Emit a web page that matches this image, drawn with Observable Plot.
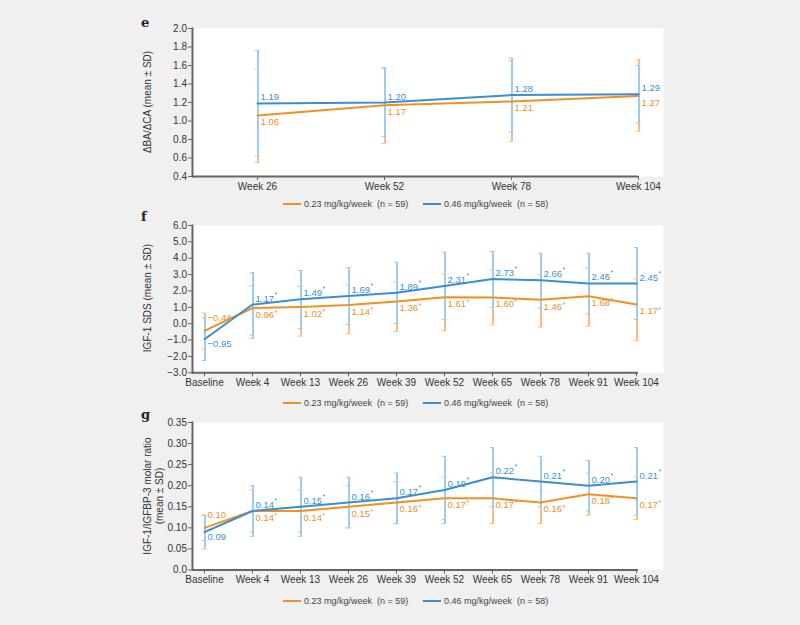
<!DOCTYPE html>
<html><head><meta charset="utf-8">
<script src="https://cdn.jsdelivr.net/npm/d3@7"></script>
<script src="https://cdn.jsdelivr.net/npm/@observablehq/plot@0.6"></script>
<style>
body{margin:0;background:#f0f0f0;font-family:"Liberation Sans",Arial,sans-serif;}
#root{position:relative;width:800px;height:625px;overflow:hidden;}
.panel{position:absolute;left:0;}
.letter{position:absolute;left:141px;font-family:"DejaVu Serif","Liberation Serif",serif;font-weight:bold;font-size:13px;line-height:16px;color:#222;}
.lg{position:absolute;font-size:9px;line-height:12px;color:#444;white-space:pre;}
.lgline{position:absolute;height:2px;width:18px;}
.ytitle{position:absolute;width:240px;text-align:center;font-size:10px;line-height:12px;color:#333;white-space:pre-line;transform:rotate(-90deg);transform-origin:50% 50%;}
</style></head>
<body><div id="root"></div>
<script>
// ---- data ----
const seriesNames = ["0.23 mg/kg/week  (n = 59)", "0.46 mg/kg/week  (n = 58)"];
const panelLetters = ["e", "f", "g"];

const eVisits = ["Week 26", "Week 52", "Week 78", "Week 104"];
const eLowMean = [1.06, 1.17, 1.21, 1.27];
const eLowLo = [0.55, 0.76, 0.78, 0.89];
const eLowHi = [1.56, 1.58, 1.65, 1.66];
const eHighMean = [1.19, 1.20, 1.28, 1.29];
const eHighLo = [0.62, 0.83, 0.88, 0.98];
const eHighHi = [1.76, 1.57, 1.68, 1.60];
const eTicks = [0.4, 0.6, 0.8, 1.0, 1.2, 1.4, 1.6, 1.8, 2.0];
const eTitle = "ΔBA/ΔCA (mean ± SD)";

const fgVisits = ["Baseline", "Week 4", "Week 13", "Week 26", "Week 39", "Week 52", "Week 65", "Week 78", "Week 91", "Week 104"];
const fLowMean = [-0.44, 0.96, 1.02, 1.14, 1.36, 1.61, 1.60, 1.46, 1.68, 1.17];
const fLowLo = [-1.55, -0.90, -0.76, -0.62, -0.48, -0.42, -0.07, -0.21, -0.15, -1.03];
const fLowHi = [0.65, 2.33, 2.27, 2.37, 2.54, 3.04, 3.29, 2.99, 3.41, 2.74];
const fHighMean = [-0.95, 1.17, 1.49, 1.69, 1.89, 2.31, 2.73, 2.66, 2.46, 2.45];
const fHighLo = [-2.25, -0.70, -0.31, -0.05, 0.01, 0.25, 1.01, 0.95, 0.60, 0.26];
const fHighHi = [0.35, 3.11, 3.25, 3.41, 3.76, 4.37, 4.41, 4.31, 4.31, 4.64];
const fTicks = [-3, -2, -1, 0, 1, 2, 3, 4, 5, 6];
const fTitle = "IGF-1 SDS (mean ± SD)";

const gLowMean = [0.10, 0.14, 0.14, 0.15, 0.16, 0.17, 0.17, 0.16, 0.18, 0.17];
const gLowLo = [0.07, 0.09, 0.09, 0.10, 0.11, 0.12, 0.11, 0.11, 0.13, 0.12];
const gLowHi = [0.13, 0.19, 0.19, 0.20, 0.21, 0.22, 0.23, 0.21, 0.23, 0.22];
const gHighMean = [0.09, 0.14, 0.15, 0.16, 0.17, 0.19, 0.22, 0.21, 0.20, 0.21];
const gHighLo = [0.05, 0.08, 0.08, 0.10, 0.11, 0.11, 0.15, 0.15, 0.14, 0.13];
const gHighHi = [0.13, 0.20, 0.22, 0.22, 0.23, 0.27, 0.29, 0.27, 0.26, 0.29];
const gTicks = [0, 0.05, 0.10, 0.15, 0.20, 0.25, 0.30, 0.35];
const gTickLabels = ["0.0", "0.05", "0.10", "0.15", "0.20", "0.25", "0.30", "0.35"];
const gTitle = "IGF-1/IGFBP-3 molar ratio\n(mean ± SD)";

// ---- styles ----
const ORANGE = "#f39022", BLUE = "#3a8ed2";
const ORANGE_L = "#f8bd85", BLUE_L = "#9fcbec";
const TEXT_O = "#f28e1e", TEXT_B = "#3c90d4";
const AXIS = "#666", TICKTXT = "#333";

function rows(visits, mean, lo, hi, stars) {
  return visits.map((v, i) => ({
    visit: v, mean: mean[i], lo: lo[i], hi: hi[i],
    label: d3.format(".2f")(mean[i]),
    star: stars && i > 0 ? "*" : "",
    base: v === "Baseline"
  }));
}

function makePanel(o) {
  const low = rows(o.visits, o.lowMean, o.lowLo, o.lowHi, o.stars);
  const high = rows(o.visits, o.highMean, o.highLo, o.highHi, o.stars);
  const nb = d => !d.base, b = d => d.base;
  const crisp = {shapeRendering: "crispEdges"};
  const cap = (data, key, color) => Plot.ruleY(data, {x1: "visit", x2: "visit", y: key, insetLeft: -2.5, insetRight: -2.5, stroke: color, strokeWidth: 1});
  return Plot.plot({
    width: 800, height: o.height,
    marginLeft: 192, marginRight: 137, marginTop: o.marginTop, marginBottom: o.marginBottom,
    style: {fontFamily: '"Liberation Sans", Arial, sans-serif', background: "transparent", color: AXIS},
    x: {type: "point", domain: o.visits, range: o.xRange, padding: 0, label: null},
    y: {domain: o.yDomain, label: null},
    marks: [
      Plot.frame({fill: "white", stroke: null}),
      Plot.ruleX(low, {x: "visit", y1: "lo", y2: "hi", stroke: ORANGE_L, strokeWidth: 2, ...crisp}),
      Plot.ruleX(high, {x: "visit", y1: "lo", y2: "hi", stroke: BLUE_L, strokeWidth: 2, ...crisp}),
      cap(low, "lo", ORANGE_L), cap(low, "hi", ORANGE_L),
      cap(high, "lo", BLUE_L), cap(high, "hi", BLUE_L),
      Plot.line(low, {x: "visit", y: "mean", stroke: ORANGE, strokeWidth: 2}),
      Plot.line(high, {x: "visit", y: "mean", stroke: BLUE, strokeWidth: 2}),
      // value labels
      Plot.text(low.filter(nb), {x: "visit", y: "mean", text: "label", dx: 3, dy: 3, textAnchor: "start", lineAnchor: "top", fill: TEXT_O, fontSize: 9.5}),
      Plot.text(high.filter(nb), {x: "visit", y: "mean", text: "label", dx: 3, dy: -3, textAnchor: "start", lineAnchor: "bottom", fill: TEXT_B, fontSize: 9.5}),
      Plot.text(low.filter(nb), {x: "visit", y: "mean", text: "star", dx: 22, dy: 2, textAnchor: "start", lineAnchor: "top", fill: TEXT_O, fontSize: 7}),
      Plot.text(high.filter(nb), {x: "visit", y: "mean", text: "star", dx: 22, dy: -8, textAnchor: "start", lineAnchor: "bottom", fill: TEXT_B, fontSize: 7}),
      Plot.text(low.filter(b), {x: "visit", y: "mean", text: "label", dx: 3, dy: -10, textAnchor: "start", lineAnchor: "bottom", fill: TEXT_O, fontSize: 9.5}),
      Plot.text(high.filter(b), {x: "visit", y: "mean", text: "label", dx: 3, dy: 5, textAnchor: "start", lineAnchor: "middle", fill: TEXT_B, fontSize: 9.5}),
      // axes
      Plot.axisY({ticks: o.yTicks, tickFormat: o.yTickFormat, tickSize: 4, tickPadding: 1.5, fontSize: 10, label: null, stroke: AXIS, fill: TICKTXT}),
      Plot.axisX({tickSize: 4, tickPadding: 2, fontSize: 10, label: null, stroke: AXIS, fill: TICKTXT}),
      Plot.frame({anchor: "left", stroke: AXIS, strokeWidth: 2}),
      Plot.ruleY([o.yDomain[0]], {stroke: AXIS, strokeWidth: 2, insetRight: 25})
    ]
  });
}

const panels = [
  {top: 0, letterTop: 15, legendY: 204, visits: eVisits, lowMean: eLowMean, lowLo: eLowLo, lowHi: eLowHi,
   highMean: eHighMean, highLo: eHighLo, highHi: eHighHi, stars: false,
   yDomain: [0.4, 2.0], yTicks: eTicks, yTickFormat: d3.format(".1f"), xRange: [257, 638],
   height: 200, marginTop: 28, marginBottom: 24, title: eTitle, titleX: 148, titleY: 102},
  {top: 200, letterTop: 209, legendY: 403, visits: fgVisits, lowMean: fLowMean, lowLo: fLowLo, lowHi: fLowHi,
   highMean: fHighMean, highLo: fHighLo, highHi: fHighHi, stars: true,
   yDomain: [-3, 6], yTicks: fTicks, yTickFormat: d3.format(".1f"), xRange: [201, 638],
   height: 195, marginTop: 25, marginBottom: 22.7, title: fTitle, titleX: 148, titleY: 298},
  {top: 400, letterTop: 407, legendY: 601, visits: fgVisits, lowMean: gLowMean, lowLo: gLowLo, lowHi: gLowHi,
   highMean: gHighMean, highLo: gHighLo, highHi: gHighHi, stars: true,
   yDomain: [0, 0.35], yTicks: gTicks, yTickFormat: d => gTickLabels[gTicks.indexOf(d)], xRange: [201, 638],
   height: 195, marginTop: 22, marginBottom: 25.5, title: gTitle, titleX: 154, titleY: 496}
];

const root = document.getElementById("root");
panels.forEach((p, k) => {
  const div = document.createElement("div");
  div.className = "panel";
  div.style.top = p.top + "px";
  div.appendChild(makePanel(p));
  root.appendChild(div);

  const L = document.createElement("div");
  L.className = "letter"; L.style.top = p.letterTop + "px"; L.textContent = panelLetters[k];
  root.appendChild(L);

  const T = document.createElement("div");
  T.className = "ytitle"; T.textContent = p.title;
  root.appendChild(T);
  const h = T.offsetHeight;
  T.style.left = (p.titleX - 120) + "px";
  T.style.top = (p.titleY - h / 2) + "px";

  const items = [{x: 283, c: ORANGE, t: seriesNames[0]}, {x: 423, c: BLUE, t: seriesNames[1]}];
  items.forEach(it => {
    const ln = document.createElement("div");
    ln.className = "lgline"; ln.style.left = it.x + "px"; ln.style.top = (p.legendY - 1) + "px"; ln.style.background = it.c;
    root.appendChild(ln);
    const tx = document.createElement("div");
    tx.className = "lg"; tx.style.left = (it.x + 21) + "px"; tx.style.top = (p.legendY - 6) + "px"; tx.textContent = it.t;
    root.appendChild(tx);
  });
});
</script></body></html>
